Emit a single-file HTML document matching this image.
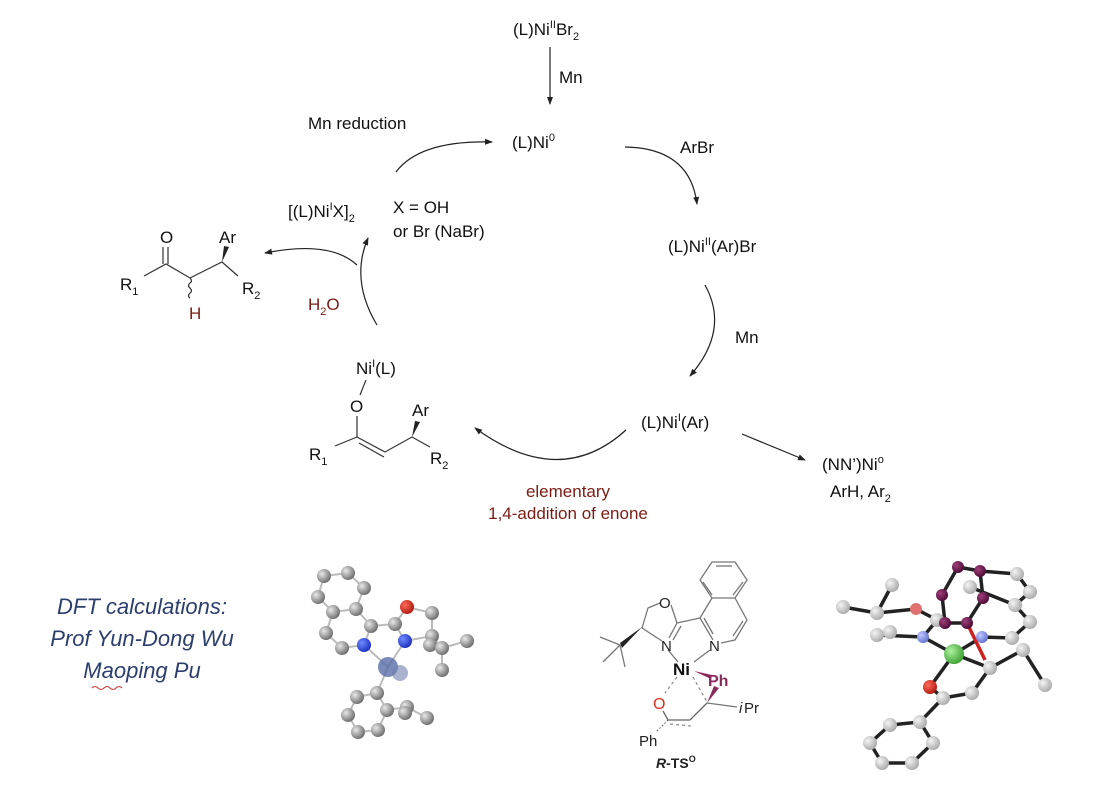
<!DOCTYPE html>
<html><head><meta charset="utf-8"><style>
body{margin:0;background:#fff;}
svg{display:block;font-family:"Liberation Sans",Arial,sans-serif;}
</style></head><body>
<svg width="1108" height="785" viewBox="0 0 1108 785" xmlns="http://www.w3.org/2000/svg">
<defs>
<marker id="ah" markerWidth="8" markerHeight="8" refX="7" refY="4" orient="auto" markerUnits="userSpaceOnUse"><path d="M0,1 L8,4 L0,7 Z" fill="#222"/></marker>
<radialGradient id="g" cx="35%" cy="35%" r="70%"><stop offset="0" stop-color="#e8e8e8"/><stop offset="1" stop-color="#6a6a6a"/></radialGradient>
<radialGradient id="lg" cx="35%" cy="35%" r="70%"><stop offset="0" stop-color="#f4f4f4"/><stop offset="1" stop-color="#a8a8a8"/></radialGradient>
<radialGradient id="b" cx="35%" cy="35%" r="70%"><stop offset="0" stop-color="#6f8bff"/><stop offset="1" stop-color="#1a2fbf"/></radialGradient>
<radialGradient id="r" cx="35%" cy="35%" r="70%"><stop offset="0" stop-color="#ff6a5a"/><stop offset="1" stop-color="#b01a10"/></radialGradient>
<radialGradient id="p" cx="35%" cy="35%" r="70%"><stop offset="0" stop-color="#a0407a"/><stop offset="1" stop-color="#4a0a35"/></radialGradient>
<radialGradient id="gr" cx="35%" cy="35%" r="70%"><stop offset="0" stop-color="#b0f0a0"/><stop offset="1" stop-color="#3aa030"/></radialGradient>
<radialGradient id="lb" cx="35%" cy="35%" r="70%"><stop offset="0" stop-color="#c0c8ff"/><stop offset="1" stop-color="#6070d0"/></radialGradient>
</defs>

<g font-size="17" fill="#111">
<text x="513" y="35">(L)Ni<tspan font-size="11" dy="-7">II</tspan><tspan dy="7">Br</tspan><tspan font-size="11" dy="5">2</tspan></text>
<line x1="550" y1="47" x2="550" y2="104" stroke="#222" stroke-width="1.2" marker-end="url(#ah)"/>
<text x="559" y="83">Mn</text>
<text x="512" y="148">(L)Ni<tspan font-size="11" dy="-7">0</tspan></text>
<text x="680" y="153">ArBr</text>
<path d="M625,147 Q690,148 697,204" fill="none" stroke="#222" stroke-width="1.2" marker-end="url(#ah)"/>
<text x="668" y="252">(L)Ni<tspan font-size="11" dy="-7">II</tspan><tspan dy="7">(Ar)Br</tspan></text>
<path d="M705,285 Q730,330 690,376" fill="none" stroke="#222" stroke-width="1.2" marker-end="url(#ah)"/>
<text x="735" y="343">Mn</text>
<text x="641" y="428">(L)Ni<tspan font-size="11" dy="-7">I</tspan><tspan dy="7">(Ar)</tspan></text>
<line x1="742" y1="434" x2="805" y2="460" stroke="#222" stroke-width="1.2" marker-end="url(#ah)"/>
<text x="822" y="470">(NN’)Ni<tspan font-size="11" dy="-7">o</tspan></text>
<text x="830" y="497">ArH, Ar<tspan font-size="11" dy="5">2</tspan></text>
<path d="M626,430 Q560,490 475,428" fill="none" stroke="#222" stroke-width="1.2" marker-end="url(#ah)"/>
<text x="568" y="497" text-anchor="middle" fill="#7a1c14">elementary</text>
<text x="568" y="519" text-anchor="middle" fill="#7a1c14">1,4-addition of enone</text>
<text x="308" y="129">Mn reduction</text>
<path d="M396,172 Q420,140 492,142" fill="none" stroke="#222" stroke-width="1.2" marker-end="url(#ah)"/>
<text x="288" y="217">[(L)Ni<tspan font-size="11" dy="-7">I</tspan><tspan dy="7">X]</tspan><tspan font-size="11" dy="5">2</tspan></text>
<text x="393" y="213">X = OH</text>
<text x="393" y="237">or Br (NaBr)</text>
<path d="M377,325 Q350,280 368,238" fill="none" stroke="#222" stroke-width="1.2" marker-end="url(#ah)"/>
<path d="M357,265 Q330,240 265,253" fill="none" stroke="#222" stroke-width="1.2" marker-end="url(#ah)"/>
<text x="308" y="310" fill="#7a1c14">H<tspan font-size="11" dy="5">2</tspan><tspan dy="-5">O</tspan></text>

<text x="160" y="243">O</text>
<text x="219" y="243">Ar</text>
<text x="120" y="290">R<tspan font-size="11" dy="5">1</tspan></text>
<text x="242" y="294">R<tspan font-size="11" dy="5">2</tspan></text>
<text x="189" y="319" fill="#7a1c14">H</text>
</g>
<g stroke="#333" stroke-width="1.2" fill="none">
<path d="M144,276 L166,264 L190,278 L222,262 L238,276"/>
<line x1="163" y1="264" x2="163" y2="247"/><line x1="168" y1="264" x2="168" y2="247"/>
<path d="M190,278 q3,3 0,5 q-3,3 0,5 q3,3 0,5 q-3,3 0,5"/>
</g>
<polygon points="222,262 224,246 229,247" fill="#222"/>

<g font-size="17" fill="#111">
<text x="356" y="374">Ni<tspan font-size="11" dy="-7">I</tspan><tspan dy="7">(L)</tspan></text>
<text x="350" y="412">O</text>
<text x="412" y="416">Ar</text>
<text x="309" y="460">R<tspan font-size="11" dy="5">1</tspan></text>
<text x="430" y="464">R<tspan font-size="11" dy="5">2</tspan></text>
</g>
<g stroke="#333" stroke-width="1.2" fill="none">
<line x1="366" y1="380" x2="360" y2="395"/>
<line x1="357" y1="416" x2="357" y2="437"/>
<path d="M335,446 L357,437 L385,452 L412,437 L430,447"/>
<line x1="359" y1="443" x2="384" y2="457"/>
</g>
<polygon points="412,437 415,421 420,422" fill="#222"/>

<g font-size="22" font-style="italic" fill="#2c3e6e" text-anchor="middle">
<text x="142" y="614">DFT calculations:</text>
<text x="142" y="646">Prof Yun-Dong Wu</text>
<text x="142" y="678">Maoping Pu</text>
</g>
<path d="M92,688 q3,-3 6,0 t6,0 t6,0 t6,0 t6,0" stroke="#d03030" fill="none" stroke-width="1"/>

<!-- TS structure -->
<g stroke="#777" stroke-width="1.3" fill="none" stroke-linejoin="round">
<polygon points="712,562 735,562 747,580 735,598 712,598 700,580"/>
<line x1="716" y1="566" x2="732" y2="566"/><line x1="743" y1="582" x2="733" y2="595"/><line x1="703" y1="582" x2="712" y2="595"/>
<path d="M712,598 L700,618 L713,640 M735,598 L747,620 L735,640 L721,643"/>
<line x1="743" y1="621" x2="733" y2="636"/>
<line x1="704" y1="618" x2="713" y2="634"/>
<path d="M700,618 L677,623 L669,638 M677,623 L671,605 M660,603 L648,608 L642,628 L662,641"/>
<line x1="681" y1="626" x2="673" y2="640"/>
<path d="M620,645 L600,637 M620,645 L603,662 M620,645 L625,667"/>
<path d="M668,650 L678,662 M710,650 L694,662"/>
<path d="M707,703 L737,707"/>
</g>
<polygon points="642,627 620,643 622,648" fill="#222"/>
<g font-size="15" fill="#222">
<text x="659" y="608">O</text>
<text x="661" y="651">N</text>
<text x="709" y="651">N</text>
<text x="673" y="675" font-size="17" font-weight="bold" fill="#111">Ni</text>
<text x="708" y="686" font-size="16" font-weight="bold" fill="#8a2a5a">Ph</text>
<text x="739" y="713" font-style="italic">i</text><text x="744" y="713">Pr</text>
<text x="639" y="746">Ph</text>
<text x="653" y="709" fill="#e03020" font-size="16">O</text>
<text x="656" y="768" font-size="14" font-weight="bold"><tspan font-style="italic">R</tspan>-TS<tspan font-size="9" dy="-6">O</tspan></text>
</g>
<polygon points="694,671 712,675 711,679" fill="#8a2a5a"/>
<polygon points="707,703 714,686 719,688" fill="#8a2a5a"/>
<g stroke="#888" stroke-width="1.2" fill="none" stroke-dasharray="3,3">
<line x1="677" y1="677" x2="665" y2="693"/>
<line x1="693" y1="677" x2="707" y2="702"/>
<line x1="670" y1="724" x2="691" y2="726"/>
</g>
<g stroke="#666" stroke-width="1.3" fill="none">
<path d="M663,711 L668,720 L690,720 L707,703"/>
</g>
<line x1="668" y1="720" x2="657" y2="731" stroke="#555" stroke-dasharray="1.5,2"/>

<!-- left ball model -->
<g stroke="#bbb" stroke-width="2" fill="none">
<path d="M324,576 L348,573 L364,588 L356,609 L333,612 L318,597 Z M333,612 L326,633 L342,648 L364,645 L371,626 L356,609 M371,626 L395,624 L405,641 L388,667 L364,645 M395,624 L407,607 L432,613 L432,636 L405,641 M432,636 L442,648 L467,641 M442,648 L442,670 M388,667 L377,693 L357,697 L348,715 L358,732 L378,730 L387,710 L377,693 M387,710 L407,707 L427,718"/>
</g>
<g fill="url(#g)">
<circle cx="324" cy="576" r="7"/><circle cx="348" cy="573" r="7"/><circle cx="364" cy="588" r="7"/><circle cx="356" cy="609" r="7"/><circle cx="333" cy="612" r="7"/><circle cx="318" cy="597" r="7"/>
<circle cx="326" cy="633" r="7"/><circle cx="342" cy="648" r="7"/><circle cx="371" cy="626" r="7"/><circle cx="395" cy="624" r="7"/><circle cx="432" cy="613" r="7"/><circle cx="432" cy="636" r="7"/><circle cx="430" cy="645" r="7"/><circle cx="442" cy="648" r="7"/><circle cx="467" cy="641" r="7"/><circle cx="442" cy="670" r="7"/>
<circle cx="377" cy="693" r="7"/><circle cx="357" cy="697" r="7"/><circle cx="387" cy="710" r="7"/><circle cx="348" cy="715" r="7"/><circle cx="358" cy="732" r="7"/><circle cx="378" cy="730" r="7"/><circle cx="407" cy="707" r="7"/><circle cx="405" cy="713" r="7"/><circle cx="427" cy="718" r="7"/>
</g>
<circle cx="364" cy="645" r="7" fill="url(#b)"/><circle cx="405" cy="641" r="7" fill="url(#b)"/><circle cx="407" cy="607" r="7" fill="url(#r)"/>
<circle cx="388" cy="667" r="10" fill="#5a6ea8" opacity="0.8"/><circle cx="400" cy="673" r="8" fill="#7080b0" opacity="0.6"/>

<!-- right ball model -->
<g stroke="#222" stroke-width="3.5" fill="none">
<path d="M958,567 L980,571 L983,598 L967,623 L945,623 L942,595 Z"/>
<path d="M980,571 L1017,574 L1030,592 L1015,605 L1030,622 L1012,638 L982,637 L954,654 L923,637 L877,635 M970,587 L1015,605 M877,613 L843,607 M877,613 L892,585 M877,613 L916,609 L937,620 L923,637 M954,654 L930,687 L943,698 L972,693 L990,668 L1023,650 L1045,685 M990,668 L954,654 M943,698 L920,722 L890,725 L870,743 L882,763 L912,763 L933,743 L920,722"/>
</g>
<line x1="967" y1="623" x2="985" y2="660" stroke="#d02020" stroke-width="3.5"/>
<g fill="url(#lg)">
<circle cx="1017" cy="574" r="7"/><circle cx="1030" cy="592" r="7"/><circle cx="1015" cy="605" r="7"/><circle cx="1030" cy="622" r="7"/><circle cx="1012" cy="638" r="7"/><circle cx="970" cy="587" r="7"/>
<circle cx="892" cy="585" r="7"/><circle cx="843" cy="607" r="7"/><circle cx="877" cy="613" r="7"/><circle cx="877" cy="635" r="7"/><circle cx="890" cy="632" r="7"/><circle cx="937" cy="620" r="7"/>
<circle cx="943" cy="698" r="7"/><circle cx="972" cy="693" r="7"/><circle cx="990" cy="668" r="7"/><circle cx="1023" cy="650" r="7"/><circle cx="1045" cy="685" r="7"/>
<circle cx="920" cy="722" r="7"/><circle cx="890" cy="725" r="7"/><circle cx="870" cy="743" r="7"/><circle cx="882" cy="763" r="7"/><circle cx="912" cy="763" r="7"/><circle cx="933" cy="743" r="7"/>
</g>
<g fill="url(#p)">
<circle cx="958" cy="567" r="6"/><circle cx="980" cy="571" r="6"/><circle cx="983" cy="598" r="6"/><circle cx="967" cy="623" r="6"/><circle cx="945" cy="623" r="6"/><circle cx="942" cy="595" r="6"/>
</g>
<circle cx="982" cy="637" r="6" fill="url(#lb)"/><circle cx="923" cy="637" r="6" fill="url(#lb)"/>
<circle cx="916" cy="609" r="6" fill="#e07070"/><circle cx="930" cy="687" r="7" fill="url(#r)"/>
<circle cx="954" cy="654" r="10" fill="url(#gr)"/>
</svg>
</body></html>
